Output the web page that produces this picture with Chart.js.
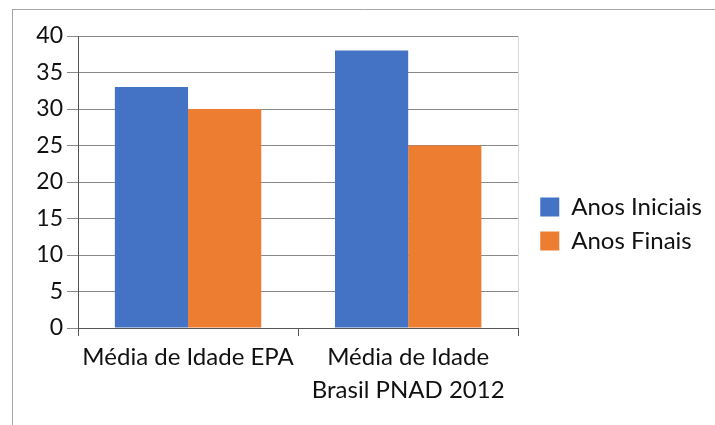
<!DOCTYPE html>
<html lang="pt">
<head>
    <meta charset="UTF-8">
    <title>Média de Idade</title>
    <script src="https://cdn.jsdelivr.net/npm/chart.js"></script>
    <style>
        body { margin: 0; background: #fff; }
        #wrap { width: 715px; height: 425px; }
    </style>
</head>
<body>
    <div id="wrap"><canvas id="myChart" width="715" height="425"></canvas></div>

    <script>
        const categories = [['Média de Idade EPA'], ['Média de Idade', 'Brasil PNAD 2012']];
        const anosIniciais = [33, 38];
        const anosFinais = [30, 25];
        const yTicks = [0, 5, 10, 15, 20, 25, 30, 35, 40];

        // moldura cinza, linha clara à direita da área do gráfico e legenda um pouco mais afastada
        const framePlugin = {
            id: 'framePlugin',
            afterLayout: (chart) => {
                chart.legend.left += 12;
                chart.legend.right += 12;
            },
            afterDraw: (chart) => {
                const { ctx, chartArea } = chart;
                ctx.save();
                ctx.strokeStyle = '#a6a6a6';
                ctx.lineWidth = 1;
                ctx.beginPath();
                ctx.moveTo(12, 9.5);
                ctx.lineTo(715, 9.5);
                ctx.moveTo(12.5, 9);
                ctx.lineTo(12.5, 425);
                ctx.stroke();
                ctx.strokeStyle = '#d9d9d9';
                ctx.beginPath();
                ctx.moveTo(Math.round(chartArea.right) + 0.5, chartArea.top);
                ctx.lineTo(Math.round(chartArea.right) + 0.5, chartArea.bottom);
                ctx.stroke();
                ctx.restore();
            }
        };

        const labelFont = { family: 'Lato', size: 24, lineHeight: 1.38 };

        const config = {
            type: 'bar',
            data: {
                labels: categories,
                datasets: [
                    {
                        label: 'Anos Iniciais',
                        data: anosIniciais,
                        backgroundColor: '#4472c4',
                        barPercentage: 1,
                        categoryPercentage: 0.665
                    },
                    {
                        label: 'Anos Finais',
                        data: anosFinais,
                        backgroundColor: '#ed7d31',
                        barPercentage: 1,
                        categoryPercentage: 0.665
                    }
                ]
            },
            options: {
                responsive: false,
                animation: false,
                layout: {
                    padding: { top: 36, left: 0, right: 24, bottom: 13 }
                },
                plugins: {
                    legend: {
                        position: 'right',
                        labels: {
                            boxWidth: 19,
                            boxHeight: 19,
                            padding: 10,
                            color: '#111',
                            font: { family: 'Lato', size: 24 }
                        }
                    },
                    tooltip: { enabled: false }
                },
                scales: {
                    x: {
                        afterFit: (scale) => { scale.height = 84; },
                        grid: {
                            offset: true,
                            drawOnChartArea: false,
                            tickLength: 8,
                            color: '#555'
                        },
                        border: { color: '#555' },
                        ticks: {
                            color: '#111',
                            font: labelFont,
                            padding: 5,
                            maxRotation: 0
                        }
                    },
                    y: {
                        min: 0,
                        max: 40,
                        afterFit: (scale) => { scale.width = 78; },
                        afterBuildTicks: (scale) => {
                            scale.ticks = yTicks.map(v => ({ value: v }));
                        },
                        grid: {
                            color: '#888',
                            tickLength: 11
                        },
                        border: { color: '#555' },
                        ticks: {
                            color: '#111',
                            font: { family: 'Lato', size: 23 },
                            padding: 4
                        }
                    }
                }
            },
            plugins: [framePlugin]
        };

        const ctx = document.getElementById('myChart').getContext('2d');
        new Chart(ctx, config);
    </script>
</body>
</html>
